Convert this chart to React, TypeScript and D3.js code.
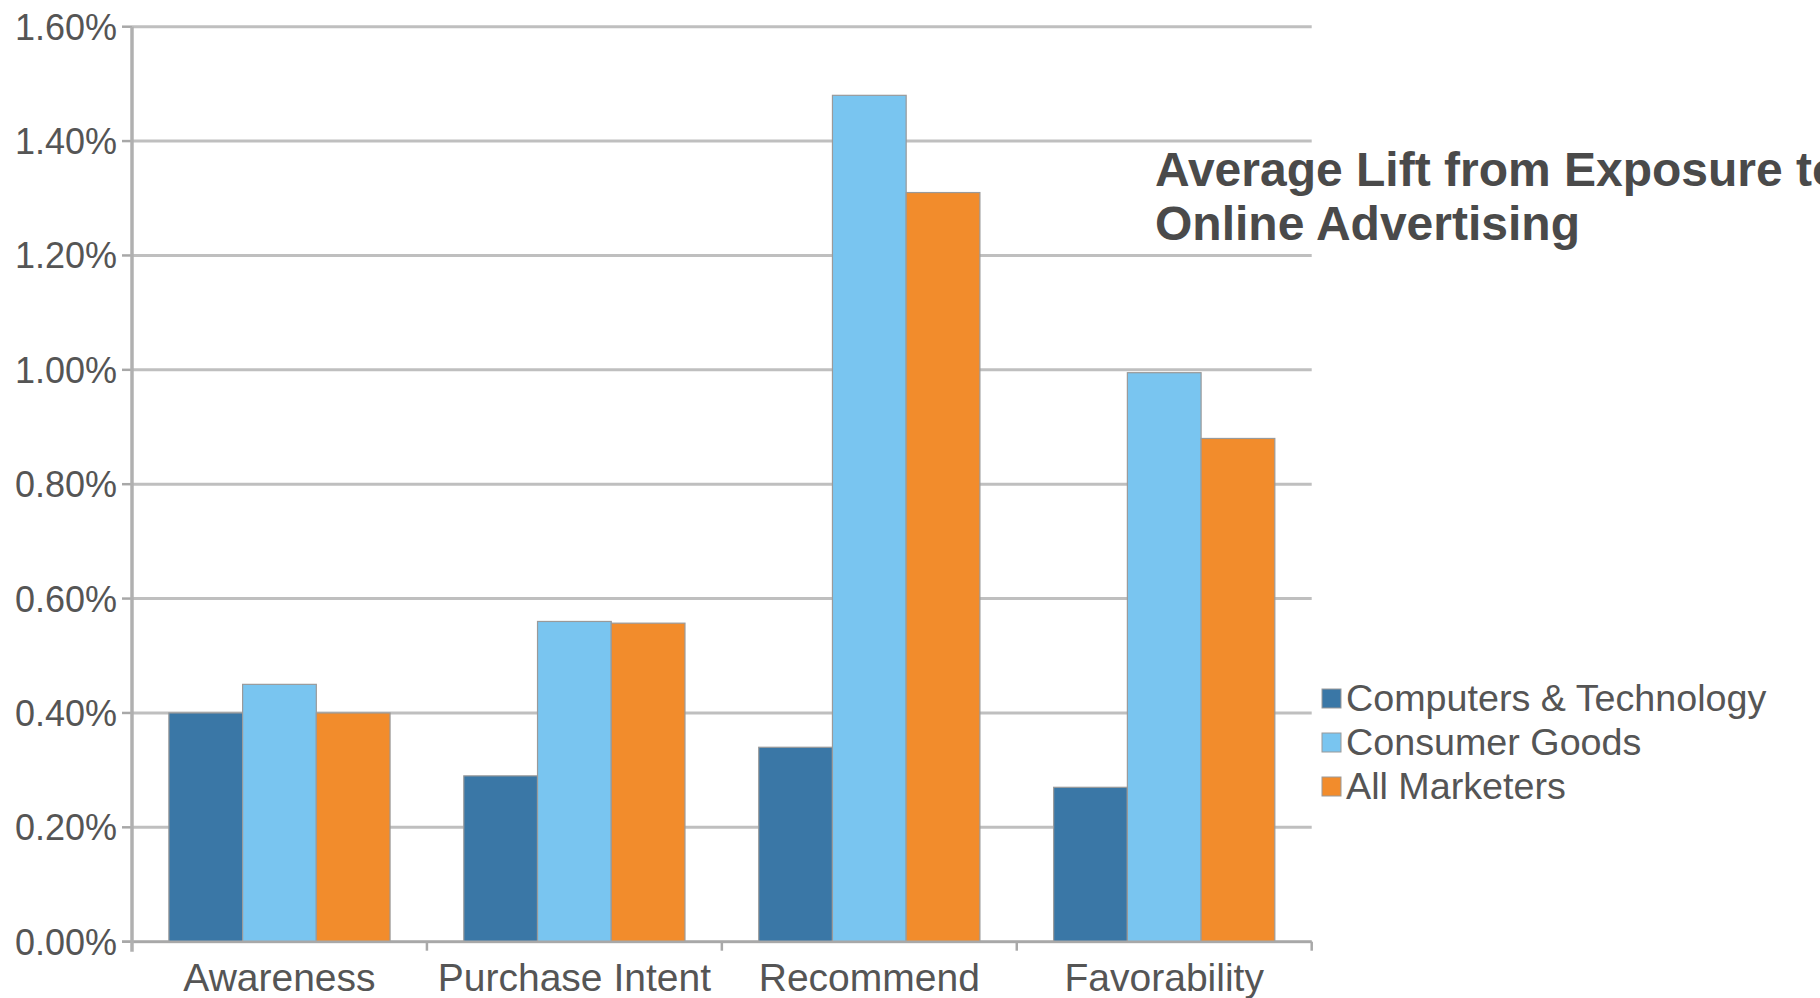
import React from "react";
import * as d3 from "d3";

const categories = ["Awareness", "Purchase Intent", "Recommend", "Favorability"];
const seriesNames = ["Computers & Technology", "Consumer Goods", "All Marketers"];
const computersTech = [0.40, 0.29, 0.34, 0.27];
const consumerGoods = [0.45, 0.56, 1.48, 0.995];
const allMarketers = [0.40, 0.557, 1.31, 0.88];
const seriesValues = [computersTech, consumerGoods, allMarketers];
const seriesColors = ["#3a77a6", "#79c5f0", "#f28c2c"];
const yTicks = [0, 0.2, 0.4, 0.6, 0.8, 1.0, 1.2, 1.4, 1.6];
const titleLines = ["Average Lift from Exposure to", "Online Advertising"];

const W = 1820;
const H = 998;
const left = 132;
const right = 1311.7;
const top = 26.7;
const bottom = 941.7;

export default function App() {
  const x = d3.scaleBand<string>().domain(categories).range([left, right]).padding(0);
  const bw = x.bandwidth();
  const xs = d3
    .scaleBand<string>()
    .domain(seriesNames)
    .range([bw * 0.125, bw * 0.875])
    .padding(0);
  const y = d3.scaleLinear().domain([0, 1.6]).range([bottom, top]);
  const fmt = (v: number) => v.toFixed(2) + "%";
  const font = "'Liberation Sans', Arial, sans-serif";
  const textColor = "#555555";
  const legendStep = 44;
  const legendY0 = 689;

  return (
    <div style={{ position: "absolute", left: 0, top: 0 }}>
      <svg width={W} height={H} style={{ display: "block" }} fontFamily={font}>
        <rect x={0} y={0} width={W} height={H} fill="#ffffff" />
        {/* gridlines */}
        {yTicks.map((t) => (
          <line
            key={"g" + t}
            x1={left}
            x2={right}
            y1={y(t)}
            y2={y(t)}
            stroke="#bfbfbf"
            strokeWidth={3}
          />
        ))}
        {/* y ticks and labels */}
        {yTicks.map((t) => (
          <g key={"t" + t}>
            <line x1={left - 10} x2={left} y1={y(t)} y2={y(t)} stroke="#a8a8a8" strokeWidth={2.5} />
            <text
              x={117}
              y={y(t)}
              dy="0.36em"
              textAnchor="end"
              fontSize={36}
              fill={textColor}
            >
              {fmt(t)}
            </text>
          </g>
        ))}
        {/* bars */}
        {categories.map((c, ci) => (
          <g key={c} transform={`translate(${x(c)},0)`}>
            {seriesNames.map((s, si) => {
              const v = seriesValues[si][ci];
              return (
                <rect
                  key={s}
                  x={xs(s)}
                  y={y(v)}
                  width={xs.bandwidth()}
                  height={y(0) - y(v)}
                  fill={seriesColors[si]}
                  stroke="#9a9a9a"
                  strokeWidth={1.2}
                />
              );
            })}
          </g>
        ))}
        {/* x axis baseline */}
        <line x1={left - 10} x2={right} y1={bottom} y2={bottom} stroke="#a8a8a8" strokeWidth={2.5} />
        {/* y axis line */}
        <line x1={left} x2={left} y1={top} y2={bottom + 10} stroke="#b0b0b0" strokeWidth={3.5} />
        {/* category ticks */}
        {categories.map((c) => (
          <line
            key={"ct" + c}
            x1={(x(c) as number) + bw}
            x2={(x(c) as number) + bw}
            y1={bottom}
            y2={bottom + 9}
            stroke="#a8a8a8"
            strokeWidth={2.5}
          />
        ))}
        {/* category labels */}
        {categories.map((c) => (
          <text
            key={"cl" + c}
            x={(x(c) as number) + bw / 2}
            y={991}
            textAnchor="middle"
            fontSize={39}
            fill={textColor}
          >
            {c}
          </text>
        ))}
        {/* title */}
        {titleLines.map((l, i) => (
          <text
            key={"title" + i}
            x={1155}
            y={186 + i * 54}
            fontSize={48}
            fontWeight="bold"
            fill="#4a4a4a"
          >
            {l}
          </text>
        ))}
        {/* legend */}
        {seriesNames.map((s, i) => (
          <g key={"lg" + s}>
            <rect
              x={1322}
              y={legendY0 + i * legendStep}
              width={19}
              height={19}
              fill={seriesColors[i]}
              stroke="#9a9a9a"
              strokeWidth={1}
            />
            <text
              x={1346}
              y={legendY0 + i * legendStep + 22}
              fontSize={37.7}
              fill={textColor}
            >
              {s}
            </text>
          </g>
        ))}
      </svg>
    </div>
  );
}
